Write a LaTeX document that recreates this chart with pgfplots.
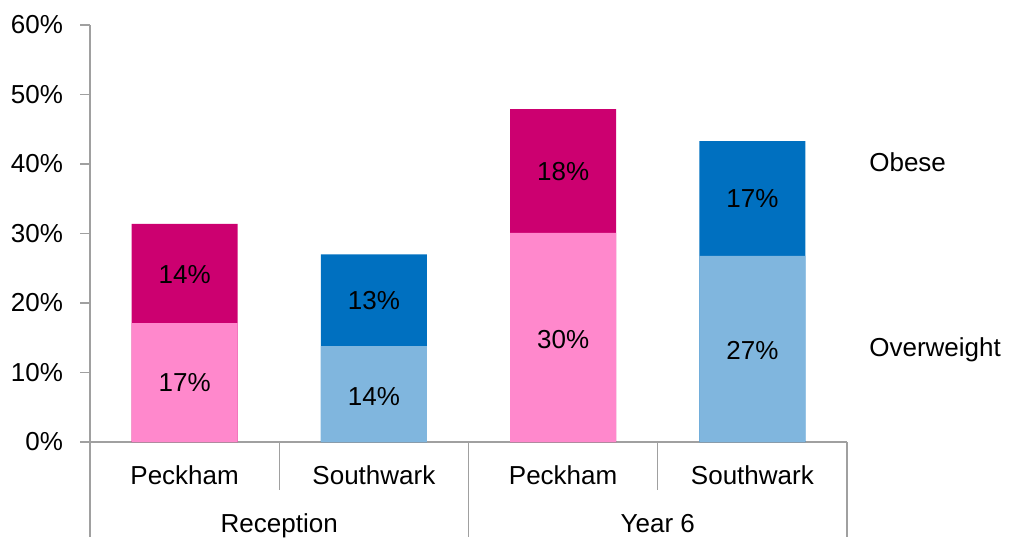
\documentclass[border=0pt]{standalone}
\usepackage{fontspec}
\setmainfont{Liberation Sans}
\usepackage{pgfplots}
\pgfplotsset{compat=1.18}
\definecolor{pinkL}{HTML}{FF88CC}
\definecolor{pinkD}{HTML}{CC0070}
\definecolor{blueL}{HTML}{80B6DE}
\definecolor{blueD}{HTML}{0070C0}
\definecolor{axgray}{HTML}{A0A0A0}
\begin{document}
\fontsize{13pt}{15pt}\selectfont
\begin{tikzpicture}
\useasboundingbox (-45pt,-47.5pt) rectangle (461pt,221pt);
\begin{axis}[at={(0,0)}, anchor=south west, scale only axis,
  width=378.5pt, height=208.5pt,
  xmin=-0.5, xmax=3.5, ymin=0, ymax=60,
  axis x line=bottom, axis y line=left,
  axis line style={axgray, line width=0.6pt, -},
  ytick={0,10,20,30,40,50,60},
  yticklabels={0\%,10\%,20\%,30\%,40\%,50\%,60\%},
  tick align=outside, major tick length=5pt,
  y tick style={axgray, line width=0.6pt},
  xtick={0,1,2,3},
  xticklabels={Peckham,Southwark,Peckham,Southwark},
  x tick style={draw=none},
  xticklabel style={anchor=base, yshift=-16pt},
  yticklabel style={anchor=east, xshift=-4pt},
  clip=false,
]
\addplot[ybar, bar width=53pt, bar shift=0pt, fill=pinkD, draw=none] coordinates {(0,31.4) (2,47.9)};
\addplot[ybar, bar width=53pt, bar shift=0pt, fill=blueD, draw=none] coordinates {(1,27.0) (3,43.3)};
\addplot[ybar, bar width=53pt, bar shift=0pt, fill=pinkL, draw=none] coordinates {(0,17.1) (2,30.1)};
\addplot[ybar, bar width=53pt, bar shift=0pt, fill=blueL, draw=none] coordinates {(1,13.8) (3,26.8)};
\addplot[only marks, mark=none, nodes near coords, point meta=explicit symbolic,
  every node near coord/.style={anchor=center, text=black}] coordinates {
  (0,8.5)[17\%] (0,24.1)[14\%]
  (1,6.6)[14\%] (1,20.4)[13\%]
  (2,14.8)[30\%] (2,38.9)[18\%]
  (3,13.2)[27\%] (3,35.0)[17\%]
};
\node[anchor=west] at (axis cs:3.57,40.3) {Obese};
\node[anchor=west] at (axis cs:3.57,13.2) {Overweight};
\draw[axgray, line width=0.6pt] (axis cs:-0.5,0) -- ([yshift=-47.5pt]axis cs:-0.5,0);
\draw[axgray, line width=0.6pt] (axis cs:1.5,0) -- ([yshift=-47.5pt]axis cs:1.5,0);
\draw[axgray, line width=0.6pt] (axis cs:3.5,0) -- ([yshift=-47.5pt]axis cs:3.5,0);
\draw[axgray, line width=0.6pt] (axis cs:0.5,0) -- ([yshift=-24pt]axis cs:0.5,0);
\draw[axgray, line width=0.6pt] (axis cs:2.5,0) -- ([yshift=-24pt]axis cs:2.5,0);
\node[anchor=base] at ([yshift=-45pt]axis cs:0.5,0) {Reception};
\node[anchor=base] at ([yshift=-45pt]axis cs:2.5,0) {Year 6};
\end{axis}
\end{tikzpicture}
\end{document}
